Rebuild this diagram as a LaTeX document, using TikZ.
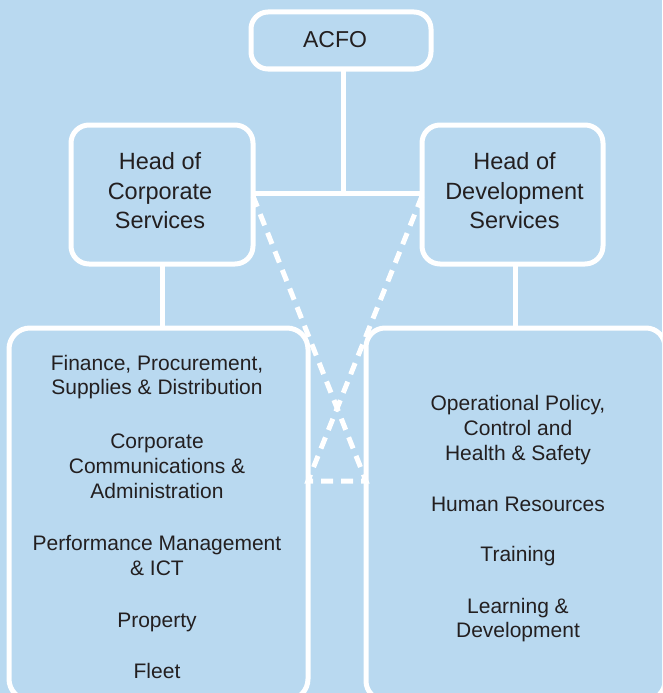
\documentclass[tikz,border=0pt]{standalone}
\usepackage{fontspec}
\setmainfont{Liberation Sans}
\definecolor{bg}{RGB}{185,217,240}
\definecolor{ink}{RGB}{35,31,32}
\begin{document}
\begin{tikzpicture}[x=1pt,y=-1pt,
  box/.style={draw=white,line width=5pt,rounded corners=#1,fill=bg,inner sep=0pt,outer sep=0pt},
  box/.default=18pt,
  conn/.style={draw=white,line width=5pt},
  dconn/.style={draw=white,line width=5pt,dash pattern=on 12pt off 8pt},
  item/.style={text=ink,align=center,inner sep=0pt,font=\fontsize{21}{25}\selectfont},
  head/.style={text=ink,align=center,inner sep=0pt,font=\fontsize{23.5}{29.5}\selectfont}]
\useasboundingbox (0,0) rectangle (662,693);
\fill[bg] (0,0) rectangle (662,693);
\clip (0,0) rectangle (662,693);
% boxes
\node[box=17pt,minimum width=180pt,minimum height=57pt] (acfo) at (341,40.5) {};
\node[box,minimum width=182pt,minimum height=139pt] (hcs) at (162,194.5) {};
\node[box,minimum width=181pt,minimum height=139pt] (hds) at (512.5,194.5) {};
\node[box=21pt,minimum width=299pt,minimum height=372pt] (cs) at (158.5,514) {};
\node[box=19pt,minimum width=299pt,minimum height=372pt] (ds) at (515.5,514) {};
% connectors
\coordinate (junc) at (343,193);
\coordinate (dtop) at (0,196);
\coordinate (dbot) at (0,481);
\draw[conn] (junc |- acfo.south) -- (junc);
\draw[conn] (hcs.east |- junc) -- (hds.west |- junc);
\draw[conn] (hcs.south) -- (hcs.south |- cs.north);
\draw[conn] (ds.north |- hds.south) -- (ds.north);
\draw[dconn] (hds.west |- dtop) -- (cs.east |- dbot) -- (ds.west |- dbot) -- (hcs.east |- dtop);
% texts
\node[head,font=\fontsize{23}{28}\selectfont] (tacfo) at (335,39.5) {ACFO};
\node[head] (thcs) at (160,191) {Head of\\Corporate\\Services};
\node[head] (thds) at (514.5,191) {Head of\\Development\\Services};
\node[item,font=\fontsize{21}{24}\selectfont] (l1) at (157,377.5) {Finance, Procurement,\\Supplies \& Distribution};
\node[item] (l2) at (157,466) {Corporate\\Communications \&\\Administration};
\node[item] (l3) at (157,555.5) {Performance Management\\\& ICT};
\node[item] (l4) at (157,622) {Property};
\node[item] (l5) at (157,670.5) {Fleet};
\node[item] (r1) at (518,430) {Operational Policy,\\Control and\\Health \& Safety};
\node[item] (r2) at (518,504) {Human Resources};
\node[item] (r3) at (518,556.5) {Training};
\node[item,font=\fontsize{21}{24}\selectfont] (r4) at (518,620.5) {Learning \&\\Development};
\end{tikzpicture}
\end{document}
